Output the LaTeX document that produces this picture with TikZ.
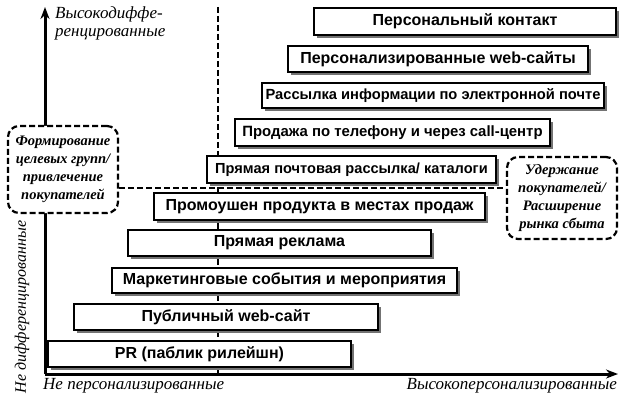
\documentclass[tikz,border=0pt]{standalone}
\usepackage{fontspec}
\setmainfont{Liberation Serif}
\setsansfont{Liberation Sans}
\usetikzlibrary{shadows,arrows.meta}
\tikzset{
  chan/.style={draw=black, line width=1.4pt, fill=white, inner sep=0pt,
    font=\sffamily\bfseries\fontsize{16}{18}\selectfont,
    drop shadow={shadow xshift=3pt, shadow yshift=-3pt, fill=black!55, opacity=1}},
  fs/.style={font=\sffamily\bfseries\fontsize{#1}{18}\selectfont},
  goal/.style={draw=black, line width=2.2pt, dash pattern=on 6pt off 3pt, rounded corners=11pt,
    fill=white, inner sep=0pt, align=center,
    font=\bfseries\itshape\fontsize{14.5}{18}\selectfont},
  divider/.style={line width=2.6pt, dash pattern=on 6pt off 3pt},
  axis/.style={line width=3pt, -{Stealth[length=12pt,width=9pt]}},
  axlabel/.style={inner sep=0pt, font=\itshape\fontsize{17}{18}\selectfont}
}
\begin{document}
\begin{tikzpicture}[x=1pt,y=-1pt]
\useasboundingbox (0,0) rectangle (629,401);
\coordinate (O) at (45,374);
\coordinate (ytip) at (45,7);
\coordinate (xtip) at (618,374);
\coordinate (vtop) at (218,7);
\coordinate (vbot) at (218,374);
% goal boxes (positions)
\path node[goal, minimum width=110pt, minimum height=87pt, draw=none] (seg) at (63,169.5) {};
\path node[goal, minimum width=110pt, minimum height=82pt, draw=none] (ret) at (562,198) {};
% dividers
\draw[divider] (vtop) -- (vbot);
\draw[divider] (seg.east |- 0,188) coordinate (hl) -- (ret.west |- 0,188) coordinate (hr);
% axes
\draw[axis] (O) -- (ytip);
\draw[axis] (O) -- (xtip);
% goal boxes on top
\node[goal, minimum width=110pt, minimum height=87pt] (segbox) at (seg)
  {Формирование\\целевых групп/\\привлечение\\покупателей};
\node[goal, minimum width=110pt, minimum height=82pt] (retbox) at (ret)
  {Удержание\\покупателей/\\Расширение\\рынка сбыта};
% channels
\node[chan, minimum width=302pt, minimum height=27pt] (c1) at (465,21.5) {Персональный контакт};
\node[chan, minimum width=300pt, minimum height=26pt] (c2) at (438,59) {Персонализированные web-сайты};
\node[chan, fs=14.7, minimum width=342pt, minimum height=25pt] (c3) at (433,95.5) {Рассылка информации по электронной почте};
\node[chan, fs=14.9, minimum width=315pt, minimum height=27pt] (c4) at (392.5,132.5) {Продажа по телефону и через call-центр};
\node[chan, fs=14.6, minimum width=289pt, minimum height=27pt] (c5) at (351.5,169.5) {Прямая почтовая рассылка/ каталоги};
\node[chan, minimum width=331pt, minimum height=27pt] (c6) at (319.5,206.5) {Промоушен продукта в местах продаж};
\node[chan, minimum width=303pt, minimum height=26pt] (c7) at (279.5,243) {Прямая реклама};
\node[chan, minimum width=345pt, minimum height=25pt] (c8) at (284.5,280.5) {Маркетинговые события и мероприятия};
\node[chan, minimum width=304pt, minimum height=26pt] (c9) at (226,317) {Публичный web-сайт};
\node[chan, minimum width=303pt, minimum height=26pt] (c10) at (199.5,354) {PR (паблик рилейшн)};
% axis labels
\node[axlabel, anchor=north west, align=left] (ylab) at (55,7) {Высокодиффе-\\ренцированные};
\node[axlabel, anchor=base west] (x0lab) at (43,389) {Не персонализированные};
\node[axlabel, anchor=base east] (x1lab) at (617,389) {Высокоперсонализированные};
\node[axlabel, font=\itshape\fontsize{16}{18}\selectfont, rotate=90, anchor=center] (y0lab) at (22,307) {Не дифференцированные};
\end{tikzpicture}
\end{document}
